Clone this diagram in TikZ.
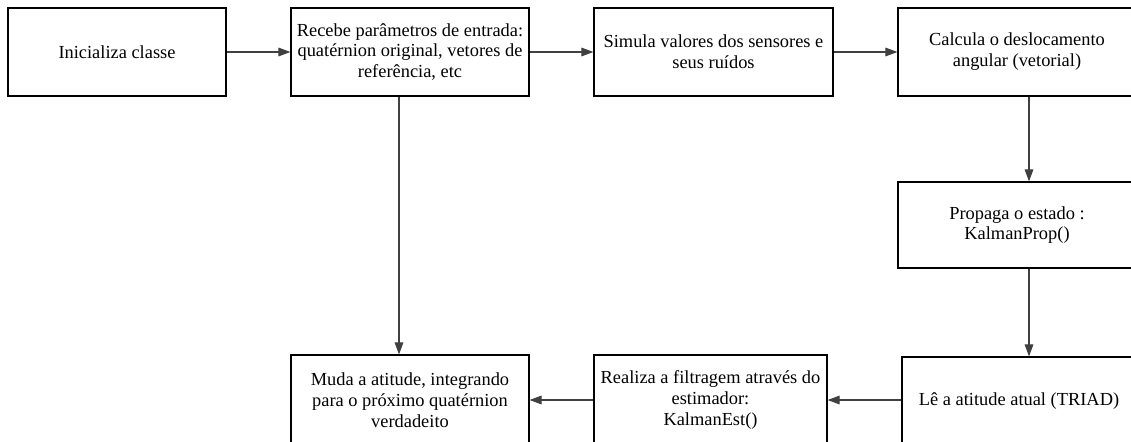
\documentclass[tikz,border=0pt]{standalone}
\usepackage{fontspec}
\setmainfont{Liberation Serif}
\usetikzlibrary{arrows.meta}
\begin{document}
\begin{tikzpicture}[x=0.75pt,y=-0.75pt,
  box/.style={draw=black, line width=0.9pt, align=center, inner sep=0pt,
    font=\fontsize{13.8}{15.6}\selectfont},
  arr/.style={draw=black!75, line width=0.8pt, -{Triangle[length=9pt,width=6.5pt]}}]
\useasboundingbox (0,0) rectangle (1131,442);
\clip (0,0) rectangle (1131,442);
\node[box, minimum width=163.5pt, minimum height=66pt] (b1) at (117,52) {Inicializa classe};
\node[box, minimum width=178.5pt, minimum height=66pt] (b2) at (410,52) {Recebe parâmetros de entrada:\\quatérnion original, vetores de\\referência, etc};
\node[box, minimum width=179.25pt, minimum height=66pt] (b3) at (713.5,52) {Simula valores dos sensores e\\seus ruídos};
\node[box, minimum width=178.5pt, minimum height=66pt] (b4) at (1017,52) {Calcula o deslocamento\\angular (vetorial)};
\node[box, minimum width=178.5pt, minimum height=64.5pt] (b5) at (1017,225) {Propaga o estado :\\KalmanProp()};
\node[box, minimum width=175.5pt, minimum height=66pt] (b6) at (1019,401) {Lê a atitude atual (TRIAD)};
\node[box, minimum width=174.75pt, minimum height=67.5pt] (b7) at (710.5,400) {Realiza a filtragem através do\\estimador:\\KalmanEst()};
\node[box, minimum width=178.5pt, minimum height=67.5pt] (b8) at (410,400) {Muda a atitude, integrando\\para o próximo quatérnion\\verdadeito};
\coordinate (vx) at (1029,0);
\coordinate (vy) at (399,0);
\draw[arr] (b1.east) -- (b2.west);
\draw[arr] (b2.east) -- (b3.west);
\draw[arr] (b3.east) -- (b4.west);
\draw[arr] (b4.south -| vx) -- (b5.north -| vx);
\draw[arr] (b5.south -| vx) -- (b6.north -| vx);
\draw[arr] (b6.west |- b7.east) -- (b7.east);
\draw[arr] (b7.west) -- (b8.east);
\draw[arr] (b2.south -| vy) -- (b8.north -| vy);
\end{tikzpicture}
\end{document}
